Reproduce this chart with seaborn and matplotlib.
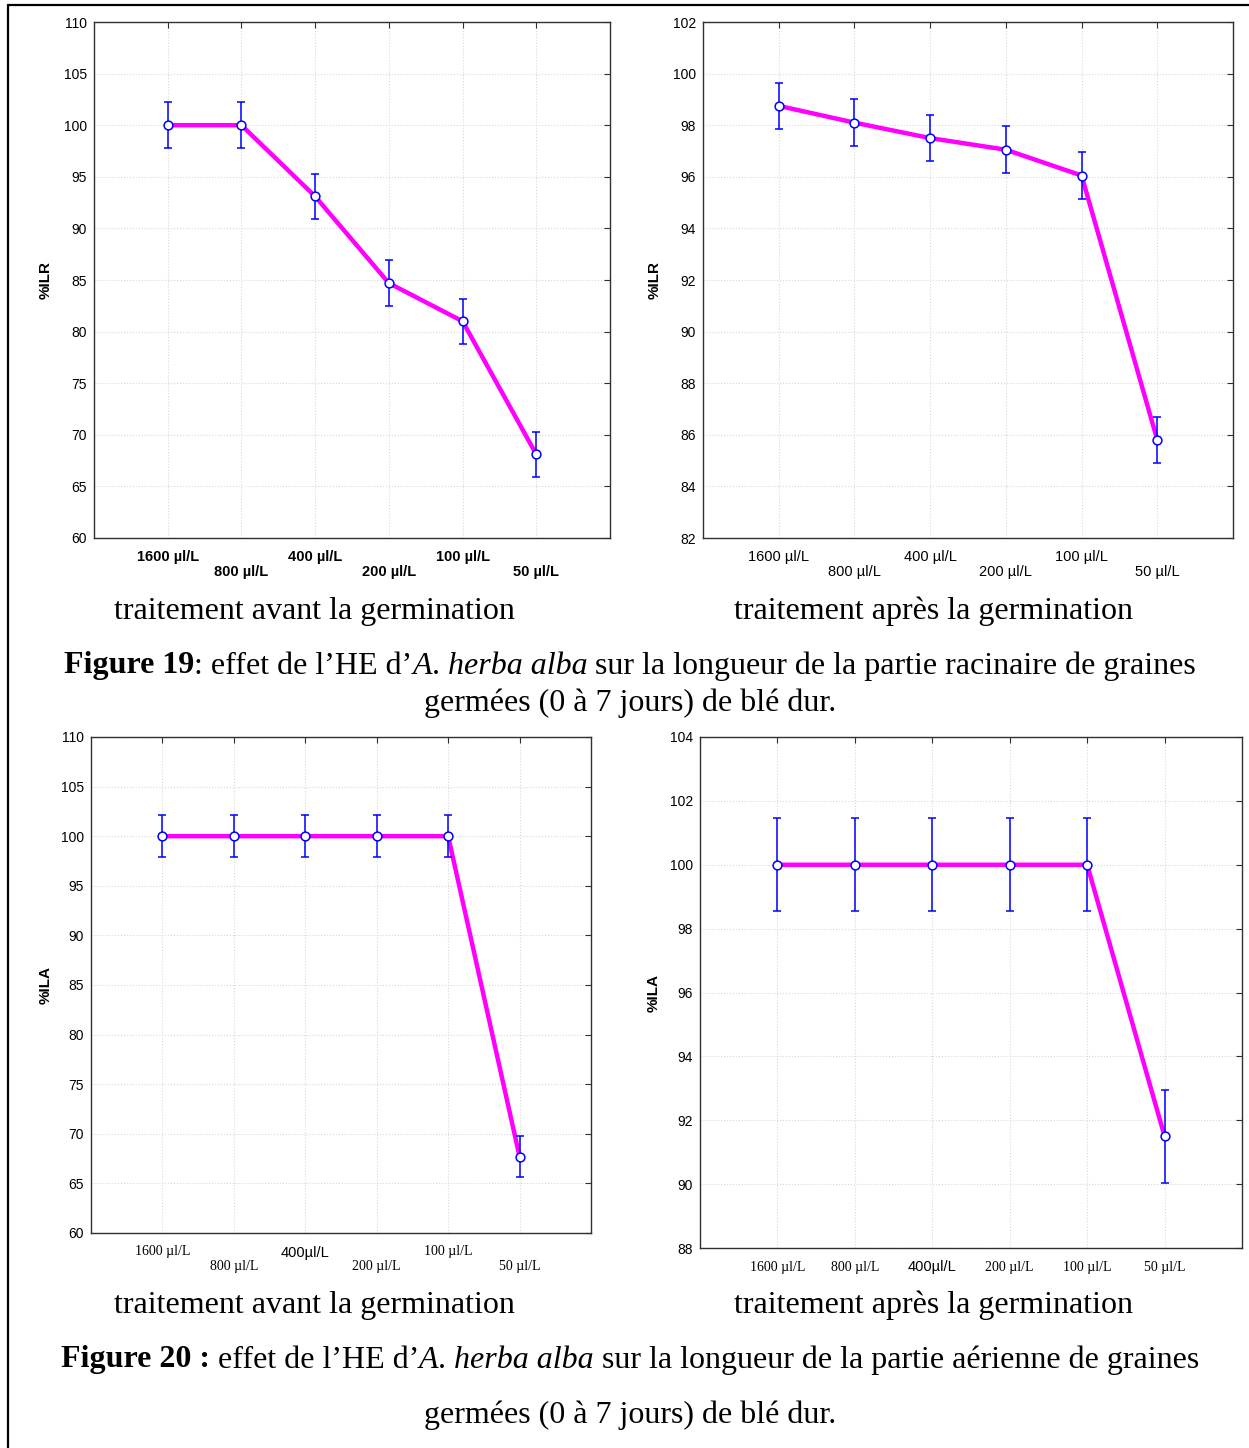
import numpy as np
import pandas as pd
import seaborn as sns
import matplotlib.pyplot as plt

# data
doses = ['1600 µl/L', '800 µl/L', '400 µl/L', '200 µl/L', '100 µl/L', '50 µl/L']
doses_b = ['1600 µl/L', '800 µl/L', '400µl/L', '200 µl/L', '100 µl/L', '50 µl/L']

ilr_avant = [100.0, 100.0, 93.1, 84.7, 81.0, 68.1]
ilr_avant_err = [2.2, 2.2, 2.2, 2.2, 2.2, 2.2]
ilr_apres = [98.75, 98.1, 97.5, 97.05, 96.05, 85.8]
ilr_apres_err = [0.9, 0.9, 0.9, 0.9, 0.9, 0.9]
ila_avant = [100.0, 100.0, 100.0, 100.0, 100.0, 67.7]
ila_avant_err = [2.1, 2.1, 2.1, 2.1, 2.1, 2.1]
ila_apres = [100.0, 100.0, 100.0, 100.0, 100.0, 91.5]
ila_apres_err = [1.45, 1.45, 1.45, 1.45, 1.45, 1.45]

sns.set_style('white')
plt.rcParams['font.family'] = ['Liberation Sans', 'DejaVu Sans']
plt.rcParams['text.color'] = 'black'
plt.rcParams['axes.labelcolor'] = 'black'
plt.rcParams['xtick.labelcolor'] = 'black'
plt.rcParams['ytick.labelcolor'] = 'black'

W, H = 1249, 1448
fig = plt.figure(figsize=(W / 100, H / 100), dpi=100)


def px_axes(x0, y0, x1, y1):
    return fig.add_axes([x0 / W, 1 - y1 / H, (x1 - x0) / W, (y1 - y0) / H])


def panel(ax, vals, errs, labels, ylim, ystep, ylabel, ylab_x, bold, serif, two_rows):
    df = pd.DataFrame({'pos': np.arange(len(vals)), 'val': vals, 'err': errs})
    sns.lineplot(data=df, x='pos', y='val', color='#ff00ff', lw=3.2, ax=ax, zorder=3)
    ax.errorbar(df['pos'], df['val'], yerr=df['err'], fmt='none', ecolor='#0000ff',
                elinewidth=1.1, capsize=3, capthick=1.1, zorder=4)
    sns.scatterplot(data=df, x='pos', y='val', marker='o', s=40, color='white',
                    edgecolor='#0000ff', linewidth=1.1, ax=ax, zorder=5)
    ax.set_xlim(-1, 6)
    ax.set_ylim(*ylim)
    ax.set_yticks(np.arange(ylim[0], ylim[1] + 0.01, ystep))
    ax.set_xticks(df['pos'])
    ax.grid(True, color='#d8d8d8', ls=':', lw=0.8)
    ax.set_axisbelow(True)
    for s in ax.spines.values():
        s.set_color('#303030')
        s.set_linewidth(1.0)
    ax.tick_params(direction='in', top=True, right=True, length=4, width=0.8,
                   color='#303030', labelsize=10, pad=5)
    ax.set_xlabel('')
    ax.set_ylabel(ylabel, fontsize=11, fontweight='bold')
    ax.yaxis.set_label_coords(ylab_x, 0.5)
    ax.set_xticklabels(labels)
    for i, (t, tk) in enumerate(zip(ax.get_xticklabels(), ax.xaxis.get_major_ticks())):
        if bold:
            t.set_fontweight('bold')
        if serif and '400' not in labels[i]:
            t.set_family('Liberation Serif')
            t.set_fontsize(10)
        else:
            t.set_fontsize(10.5)
        if two_rows and i % 2 == 1:
            tk.set_pad(19.5)
        else:
            tk.set_pad(9)


ax1 = px_axes(94, 22, 610, 538)
panel(ax1, ilr_avant, ilr_avant_err, doses, (60, 110), 5, '%ILR', -0.08, True, False, True)
ax2 = px_axes(703, 22, 1233, 538)
panel(ax2, ilr_apres, ilr_apres_err, doses, (82, 102), 2, '%ILR', -0.079, False, False, True)
ax3 = px_axes(91, 737, 591, 1233)
panel(ax3, ila_avant, ila_avant_err, doses_b, (60, 110), 5, '%ILA', -0.076, False, True, True)
ax4 = px_axes(700, 737, 1242, 1248)
panel(ax4, ila_apres, ila_apres_err, doses_b, (88, 104), 2, '%ILA', -0.072, False, True, False)

serif = 'Liberation Serif'
fs = 23


def ptext(x, y, s, **kw):
    return fig.text(x / W, 1 - y / H, s, family=serif, fontsize=fs, ha='center', va='center', **kw)


def rich_line(pieces, xc, y):
    renderer = fig.canvas.get_renderer()
    texts = []
    for s, w, st in pieces:
        t = fig.text(0, 1 - y / H, s, family=serif, fontsize=fs, fontweight=w,
                     style=st, va='center', ha='left')
        texts.append(t)
    widths = [t.get_window_extent(renderer).width for t in texts]
    x = xc - sum(widths) / 2
    for t, w in zip(texts, widths):
        t.set_x(x / W)
        x += w


ptext(314, 611, 'traitement avant la germination')
ptext(934, 611, 'traitement après la germination')
ptext(314, 1305, 'traitement avant la germination')
ptext(934, 1305, 'traitement après la germination')

rich_line([('Figure 19', 'bold', 'normal'), (': effet de l\u2019HE d\u2019', 'normal', 'normal'),
           ('A', 'normal', 'italic'), ('. ', 'normal', 'normal'),
           ('herba alba', 'normal', 'italic'),
           (' sur la longueur de la partie racinaire de graines', 'normal', 'normal')], 630, 666)
ptext(630, 703, 'germées (0 à 7 jours) de blé dur.')

rich_line([('Figure 20 :', 'bold', 'normal'), (' effet de l\u2019HE d\u2019', 'normal', 'normal'),
           ('A', 'normal', 'italic'), ('. ', 'normal', 'normal'),
           ('herba alba', 'normal', 'italic'),
           (' sur la longueur de la partie aérienne de graines', 'normal', 'normal')], 630, 1360)
ptext(630, 1415, 'germées (0 à 7 jours) de blé dur.')

# page frame (top and left edges only visible)
fig.add_artist(plt.Line2D([8 / W, 8 / W], [0, 1 - 5 / H], color='black', lw=1.6))
fig.add_artist(plt.Line2D([8 / W, 1], [1 - 5 / H, 1 - 5 / H], color='black', lw=1.6))

fig.savefig('out.png', dpi=100)
